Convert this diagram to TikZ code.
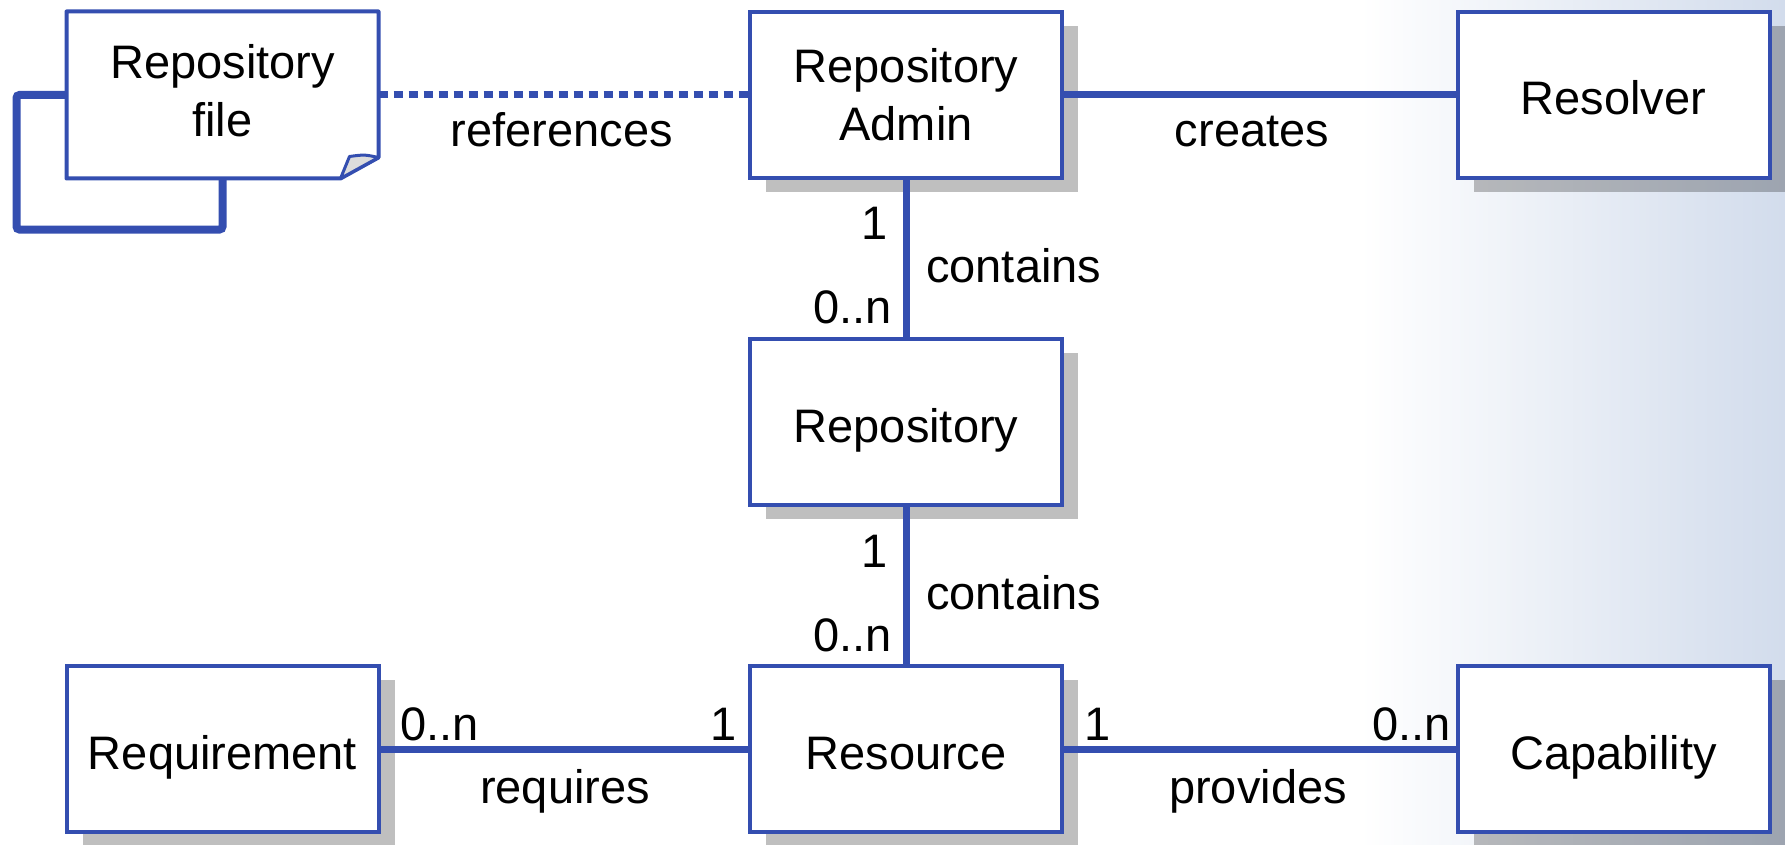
\documentclass[tikz,border=0pt]{standalone}
\usepackage{fontspec}
\setmainfont{Liberation Sans}
\usetikzlibrary{shadows}
\definecolor{umlblue}{RGB}{52,78,176}
\definecolor{bgblue}{RGB}{210,220,236}
\definecolor{foldgray}{RGB}{220,220,220}
\begin{document}
\begin{tikzpicture}[x=1pt,y=-1pt,
  every node/.style={font=\fontsize{47}{58}\selectfont},
  cls/.style={draw=umlblue, line width=4pt, fill=white, minimum width=312pt,
    minimum height=166pt, inner sep=0pt,
    drop shadow={shadow xshift=16pt, shadow yshift=-14pt, fill=black, opacity=.25}},
  oneline/.style={text height=40pt, text depth=0pt},
  twoline/.style={align=center},
  conn/.style={draw=umlblue, line width=7pt},
  dotconn/.style={draw=umlblue, line width=7pt, dash pattern=on 9pt off 6pt},
  lbl/.style={inner sep=0pt},
]
\useasboundingbox (0,0) rectangle (1785,845);
% background gradient on the right
\shade[left color=white, right color=bgblue] (1360,0) rectangle (1785,845);

% Repository file (document shape with folded corner)
\node[minimum width=312pt, minimum height=167pt, inner sep=0pt, outer sep=0pt] (rfile) at (222.5,95) {};
\draw[conn, line width=8pt, rounded corners=3pt] (rfile.west) -- ++(-50,0) |- ([yshift=-51pt]rfile.south) -- (rfile.south);
\draw[draw=umlblue, line width=4pt, fill=white, line join=round]
  (rfile.north west) -- (rfile.north east) -- ([yshift=21pt]rfile.south east)
  -- ([xshift=-38pt]rfile.south east) -- (rfile.south west) -- cycle;
\draw[draw=umlblue, line width=3pt, fill=foldgray, line join=round]
  ([xshift=-38pt]rfile.south east) -- ([xshift=-29pt,yshift=22pt]rfile.south east)
  .. controls ([xshift=-14pt,yshift=24pt]rfile.south east) .. ([yshift=21pt]rfile.south east) -- cycle;
\node[twoline, inner sep=0pt] (rfiletext) at ([yshift=4pt]rfile.center) {Repository\\file};

% class nodes
\node[cls, twoline] (admin) at (906,95) {Repository\\Admin};
\node[cls, oneline] (resolver) at (1613.5,95) {Resolver};
\node[cls, oneline] (repo) at (906,422) {Repository};
\node[cls, oneline] (req) at (222.5,749) {Requirement};
\node[cls, oneline] (res) at (906,749) {Resource};
\node[cls, oneline] (cap) at (1613.5,749) {Capability};

% connectors
\draw[dotconn] (rfile.east) -- (admin.west);
\draw[conn] (admin.east) -- (resolver.west);
\draw[conn] (admin.south) -- (repo.north);
\draw[conn] (repo.south) -- (res.north);
\draw[conn] (req.east) -- (res.west);
\draw[conn] (res.east) -- (cap.west);

% labels
\node[lbl, anchor=base] (lref) at (562,147) {references};
\node[lbl, anchor=base] (lcre) at (1252,147) {creates};
\node[lbl, anchor=base east] (m1a) at (888,240) {1};
\node[lbl, anchor=base west] (lcon1) at (926,282) {contains};
\node[lbl, anchor=base east] (m1b) at (892,323) {0..n};
\node[lbl, anchor=base east] (m2a) at (888,567) {1};
\node[lbl, anchor=base west] (lcon2) at (926,609) {contains};
\node[lbl, anchor=base east] (m2b) at (892,651) {0..n};
\node[lbl, anchor=base west] (m3a) at (400,740) {0..n};
\node[lbl, anchor=base east] (m3b) at (737,740) {1};
\node[lbl, anchor=base] (lreq) at (565,803) {requires};
\node[lbl, anchor=base west] (m4a) at (1084,740) {1};
\node[lbl, anchor=base east] (m4b) at (1451,740) {0..n};
\node[lbl, anchor=base] (lprov) at (1258,803) {provides};
\end{tikzpicture}
\end{document}
